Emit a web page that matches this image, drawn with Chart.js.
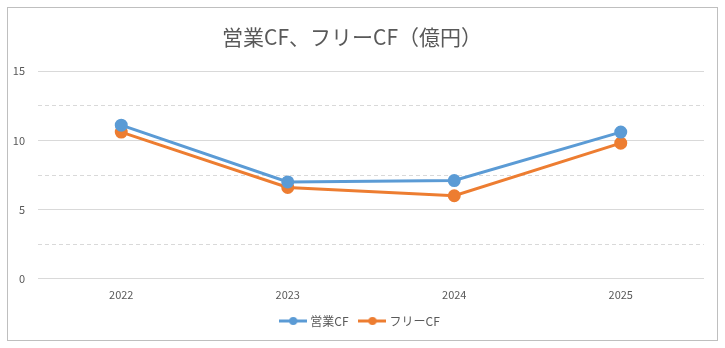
<!DOCTYPE html>
<html>
<head>
<meta charset="utf-8">
<script src="https://cdn.jsdelivr.net/npm/chart.js@4"></script>
<style>
    html, body { margin: 0; padding: 0; background: #fff; }
    #wrap { position: relative; width: 725px; height: 348px; }
    #frame { position: absolute; left: 7px; top: 7px; width: 709px; height: 332px; border: 1px solid #bfbfbf; }
    #c { position: absolute; left: 0; top: 0; }
</style>
</head>
<body>
<div id="wrap">
    <div id="frame"></div>
    <canvas id="c" width="725" height="348"></canvas>
</div>
<script>
const years = ['2022', '2023', '2024', '2025'];
const operatingCF = [11.1, 7.0, 7.1, 10.6];
const freeCF = [10.6, 6.6, 6.0, 9.8];
const yTicks = [0, 5, 10, 15];

const blue = '#5B9BD5';
const orange = '#ED7D31';
const textColor = '#595959';
const jpFont = '"Noto Sans CJK JP", "Noto Sans", sans-serif';

// legend marker: line with a dot in the middle
function legendMarker(color) {
    const c = document.createElement('canvas');
    c.width = 28; c.height = 10;
    const g = c.getContext('2d');
    g.strokeStyle = color;
    g.lineWidth = 3;
    g.beginPath(); g.moveTo(0, 5); g.lineTo(28, 5); g.stroke();
    g.fillStyle = color;
    g.beginPath(); g.arc(14, 5, 4, 0, Math.PI * 2); g.fill();
    return c;
}
const markers = [legendMarker(blue), legendMarker(orange)];

// legend sits centred on the whole frame, not the plot
const legendShift = {
    id: 'legendShift',
    afterLayout(chart) {
        if (chart.legend) {
            chart.legend.left += 9;
            chart.legend.right += 9;
        }
    }
};

new Chart(document.getElementById('c').getContext('2d'), {
    type: 'line',
    data: {
        labels: years,
        datasets: [
            {
                label: '営業CF',
                data: operatingCF,
                borderColor: blue,
                backgroundColor: blue,
                borderWidth: 3,
                pointRadius: 5,
                pointHoverRadius: 5,
                tension: 0
            },
            {
                label: 'フリーCF',
                data: freeCF,
                borderColor: orange,
                backgroundColor: orange,
                borderWidth: 3,
                pointRadius: 5,
                pointHoverRadius: 5,
                tension: 0
            }
        ]
    },
    plugins: [legendShift],
    options: {
        responsive: false,
        animation: false,
        layout: { padding: { left: 0, right: 21, top: 16, bottom: 11 } },
        plugins: {
            title: {
                display: true,
                text: '営業CF、フリーCF（億円）',
                color: textColor,
                font: { family: jpFont, size: 21, weight: 'normal' },
                padding: { top: 8, bottom: 22 }
            },
            legend: {
                position: 'bottom',
                labels: {
                    color: textColor,
                    font: { family: jpFont, size: 12 },
                    usePointStyle: true,
                    pointStyleWidth: 22,
                    padding: 13,
                    generateLabels: function(chart) {
                        const items = Chart.defaults.plugins.legend.labels.generateLabels(chart);
                        items.forEach((it, i) => { it.pointStyle = markers[i]; });
                        return items;
                    }
                }
            },
            tooltip: { enabled: false }
        },
        scales: {
            x: {
                offset: true,
                grid: { display: false },
                border: { display: false },
                ticks: { color: textColor, font: { family: jpFont, size: 11 }, padding: 1 }
            },
            y: {
                min: 0,
                max: 15,
                afterFit: function(scale) { scale.width = 38; },
                afterBuildTicks: function(scale) {
                    // major ticks plus dashed half-steps
                    const t = [];
                    yTicks.forEach((v, i) => {
                        t.push({ value: v });
                        if (i < yTicks.length - 1) t.push({ value: (v + yTicks[i + 1]) / 2 });
                    });
                    scale.ticks = t;
                },
                grid: { color: '#d9d9d9', drawTicks: false, lineWidth: 1 },
                border: {
                    display: false,
                    dash: ctx => (ctx.tick && yTicks.indexOf(ctx.tick.value) < 0) ? [4, 3] : []
                },
                ticks: {
                    color: textColor,
                    font: { family: jpFont, size: 11 },
                    padding: 13,
                    callback: v => yTicks.indexOf(v) >= 0 ? v : ''
                }
            }
        }
    }
});
</script>
</body>
</html>
